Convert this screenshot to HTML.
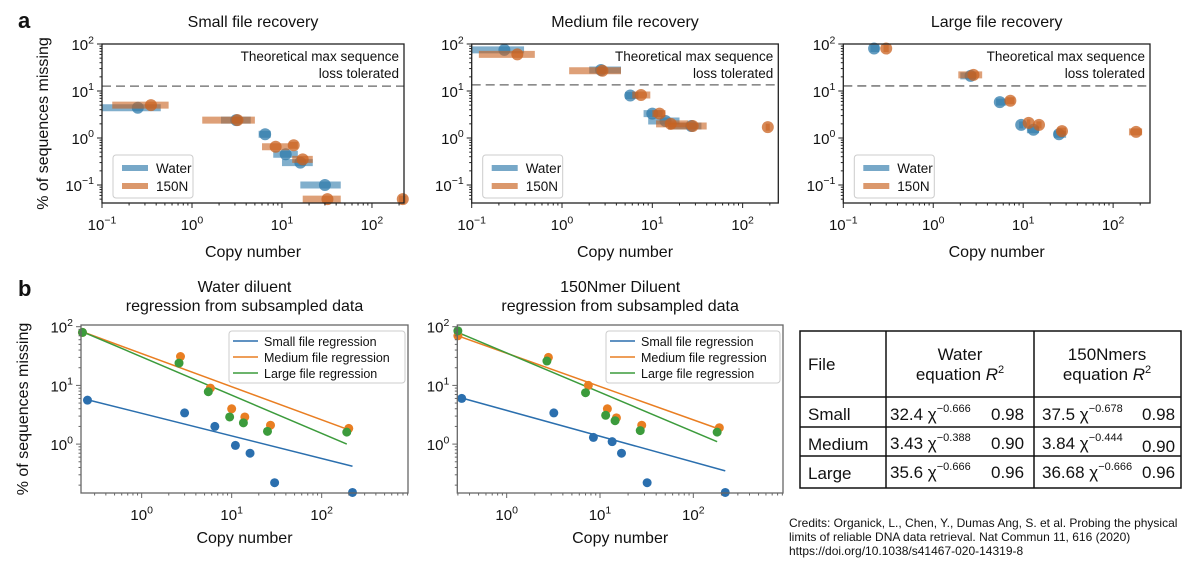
<!DOCTYPE html>
<html><head><meta charset="utf-8"><style>
body{margin:0;background:#fff;width:1200px;height:569px;overflow:hidden;font-family:"Liberation Sans",sans-serif}
svg text{font-family:"Liberation Sans",sans-serif;fill:#111}
</style></head><body>
<svg id="fig" width="1200" height="569" viewBox="0 0 1200 569" xmlns="http://www.w3.org/2000/svg">
<text x="18" y="28" font-size="22" font-weight="bold">a</text>
<text x="18" y="296" font-size="22" font-weight="bold">b</text>
<g font-size="17">
<rect x="800" y="331" width="381" height="157" fill="none" stroke="#111" stroke-width="1.5"/>
<line x1="800" y1="397" x2="1181" y2="397" stroke="#111" stroke-width="1.5"/>
<line x1="800" y1="427" x2="1181" y2="427" stroke="#111" stroke-width="1.5"/>
<line x1="800" y1="456" x2="1181" y2="456" stroke="#111" stroke-width="1.5"/>
<line x1="886" y1="331" x2="886" y2="488" stroke="#111" stroke-width="1.5"/>
<line x1="1034" y1="331" x2="1034" y2="488" stroke="#111" stroke-width="1.5"/>
<text x="808" y="370">File</text>
<text x="960" y="360" text-anchor="middle">Water</text>
<text x="960" y="380" text-anchor="middle">equation <tspan font-style="italic">R</tspan><tspan dy="-7" font-size="11">2</tspan></text>
<text x="1107" y="360" text-anchor="middle">150Nmers</text>
<text x="1107" y="380" text-anchor="middle">equation <tspan font-style="italic">R</tspan><tspan dy="-7" font-size="11">2</tspan></text>
<text x="808" y="420">Small</text><text x="808" y="450">Medium</text><text x="808" y="479">Large</text>
<text x="890" y="420">32.4 χ<tspan dy="-8" font-size="11">−0.666</tspan></text><text x="991" y="420">0.98</text>
<text x="890" y="449">3.43 χ<tspan dy="-8" font-size="11">−0.388</tspan></text><text x="991" y="449">0.90</text>
<text x="890" y="478">35.6 χ<tspan dy="-8" font-size="11">−0.666</tspan></text><text x="991" y="478">0.96</text>
<text x="1042" y="420">37.5 χ<tspan dy="-8" font-size="11">−0.678</tspan></text><text x="1142" y="420">0.98</text>
<text x="1042" y="449">3.84 χ<tspan dy="-8" font-size="11">−0.444</tspan></text><text x="1142" y="452">0.90</text>
<text x="1042" y="478">36.68 χ<tspan dy="-8" font-size="11">−0.666</tspan></text><text x="1142" y="478">0.96</text>
</g>
<g font-size="12">
<text x="789" y="527">Credits: Organick, L., Chen, Y., Dumas Ang, S. et al. Probing the physical</text>
<text x="789" y="541">limits of reliable DNA data retrieval. Nat Commun 11, 616 (2020)</text>
<text x="789" y="555">https://doi.org/10.1038/s41467-020-14319-8</text>
</g>
</svg>
<script>
// ---- Panel a data: [copy, pct, barLo, barHi]
const smallWater=[[0.25,4.4,0.1,0.45],[3.1,2.4,2.1,4.5],[6.5,1.2,5.5,7.5],[11,0.45,8,15],[16,0.3,10,22],[30,0.1,16,45]];
const small150=[[0.35,5,0.13,0.55],[3.2,2.4,1.3,5],[8.5,0.65,6,12],[13.5,0.7,12,15],[17,0.35,13,22],[32,0.05,17,45],[220,0.05,200,240]];
const medWater=[[0.23,75,0.1,0.38],[2.7,28,2,4.5],[5.7,8,5,7],[10,3.3,8,13],[14,2.3,9,20],[27,1.8,15,35]];
const med150=[[0.32,60,0.12,0.5],[2.8,27,1.2,4.5],[7.5,8.2,6,9.5],[12,3.3,10,14],[16,2,11,25],[28,1.8,15,40],[190,1.7,180,200]];
const largeWater=[[0.22,80,0.2,0.25],[2.6,21,2,3],[5.5,5.8,5,6.5],[9.5,1.9,9,10],[13,1.5,11,15],[25,1.2,22,30]];
const large150=[[0.3,80,0.28,0.32],[2.8,22,1.9,3.5],[7.2,6.2,6.5,8],[11.5,2.1,11,12],[15,1.9,14,16],[27,1.4,24,30],[180,1.35,150,210]];
const tolerance=[12.7,13.5,12.8];
// ---- Panel b data
const bwSmall=[[0.25,5.6],[3,3.4],[6.5,2],[11,0.95],[16,0.7],[30,0.22],[220,0.15]];
const bwMed=[[0.22,80],[2.7,31],[5.8,9],[10,4],[14,2.9],[27,2.1],[200,1.85]];
const bwLarge=[[0.22,80],[2.6,24],[5.5,7.8],[9.5,2.9],[13.5,2.3],[25,1.65],[190,1.6]];
const bwLines=[[[0.25,5.7],[220,0.42]],[[0.22,82],[200,1.75]],[[0.22,82],[190,1.0]]];
const bnSmall=[[0.33,6],[3.2,3.4],[8.5,1.3],[13.5,1.1],[17,0.7],[32,0.22],[220,0.15]];
const bnMed=[[0.3,70],[2.8,30],[7.5,10],[12,4],[15,2.8],[28,2.1],[190,1.9]];
const bnLarge=[[0.3,85],[2.7,26],[7,7.5],[11.5,3.1],[14.5,2.5],[27,1.7],[180,1.6]];
const bnLines=[[[0.33,6.1],[220,0.35]],[[0.3,70],[190,1.8]],[[0.3,80],[180,1.1]]];

const NS='http://www.w3.org/2000/svg';
const svg=document.getElementById('fig');
function mk(tag,attrs,parent){const e=document.createElementNS(NS,tag);for(const k in attrs)e.setAttribute(k,attrs[k]);(parent||svg).appendChild(e);return e;}
function sup(parent,x,y,base,exp,fs,anchor){
  const t=mk('text',{x:x,y:y,'font-size':fs,'text-anchor':anchor||'middle'},parent);
  t.appendChild(document.createTextNode(base));
  const s=mk('tspan',{dy:-fs*0.45,'font-size':fs*0.7},t);s.textContent=exp;return t;}
function axes(c){
  const g=mk('g',{});
  
  
  c.g=g;
  c.sx=v=>c.x0+(Math.log10(v)-c.xlo)/(c.xhi-c.xlo)*(c.x1-c.x0);
  c.sy=v=>c.y1-(Math.log10(v)-c.ylo)/(c.yhi-c.ylo)*(c.y1-c.y0);
  return c;}
function frame(c){
  const g=c.g,col=c.spine;
  mk('rect',{x:c.x0,y:c.y0,width:c.x1-c.x0,height:c.y1-c.y0,fill:'none',stroke:col,'stroke-width':1.3},g);
  for(let d=Math.floor(c.xlo);d<=Math.ceil(c.xhi);d++){
    for(let m=1;m<10;m++){const lv=d+Math.log10(m);if(lv<c.xlo-1e-6||lv>c.xhi+1e-6)continue;
      const x=c.sx(Math.pow(10,lv));mk('line',{x1:x,x2:x,y1:c.y1,y2:c.y1+(m==1?5:2.5),stroke:col,'stroke-width':1},g);
      if(m==1){const t=sup(g,x,c.y1+c.tko,'10',d<0?'−'+(-d):String(d),c.fs);}}}
  for(let d=Math.floor(c.ylo);d<=Math.ceil(c.yhi);d++){
    for(let m=1;m<10;m++){const lv=d+Math.log10(m);if(lv<c.ylo-1e-6||lv>c.yhi+1e-6)continue;
      const y=c.sy(Math.pow(10,lv));mk('line',{x1:c.x0,x2:c.x0-(m==1?5:2.5),y1:y,y2:y,stroke:col,'stroke-width':1},g);
      if(m==1){const t=sup(g,c.x0-8,y+6,'10',d<0?'−'+(-d):String(d),c.fs,'end');}}}
  const xl=mk('text',{x:(c.x0+c.x1)/2,y:c.y1+c.xlo2,'font-size':16,'text-anchor':'middle'},g);xl.textContent='Copy number';
  
  c.titles.forEach((tt,i)=>{const t=mk('text',{x:(c.x0+c.x1)/2,y:c.ty+i*19,'font-size':16,'text-anchor':'middle'},g);t.textContent=tt;
    });
  if(c.ylabel){const cy=(c.y0+c.y1)/2;const t=mk('text',{x:c.ylx,y:cy,'font-size':16,'text-anchor':'middle',transform:`rotate(-90 ${c.ylx} ${cy})`},g);
    t.textContent='% of sequences missing';}
}
const BLUE='#2f7bab',ORANGE='#c9621f';
function panelA(c,water,n150,tol){
  axes(c);
  const g=c.g;
  const y=c.sy(tol);
  const dl=mk('line',{x1:c.x0,x2:c.x1,y1:y,y2:y,stroke:'#666','stroke-width':1.3,'stroke-dasharray':'9,5'},g);
  
  let t=mk('text',{x:c.x1-5,y:c.y0+17,'font-size':13.5,'text-anchor':'end'},g);t.textContent='Theoretical max sequence';
  
  t=mk('text',{x:c.x1-5,y:c.y0+34,'font-size':13.5,'text-anchor':'end'},g);t.textContent='loss tolerated';
  
  [[water,BLUE,'water'],[n150,ORANGE,'150n']].forEach(([arr,col,nm])=>{
    arr.forEach(d=>{
      const b=mk('line',{x1:c.sx(d[2]),x2:c.sx(d[3]),y1:c.sy(d[1]),y2:c.sy(d[1]),stroke:col,'stroke-width':7,opacity:0.6},g);
      
      const p=mk('circle',{cx:c.sx(d[0]),cy:c.sy(d[1]),r:6,fill:col,opacity:0.75},g);
      
    });});
  const lg=mk('g',{},g);
  const lx=c.x0+11,ly=c.y1-48;
  mk('rect',{x:lx,y:ly,width:80,height:43,rx:3,fill:'#fff',stroke:'#ccc'},lg);
  [['Water',BLUE],['150N',ORANGE]].forEach(([n,col],i)=>{
    const e=mk('g',{},lg);
    mk('line',{x1:lx+9,x2:lx+35,y1:ly+13+i*18,y2:ly+13+i*18,stroke:col,'stroke-width':6,opacity:0.65},e);
    const tt=mk('text',{x:lx+43,y:ly+18+i*18,'font-size':13.5},e);tt.textContent=n;});
  frame(c);
}
function panelB(c,sm,md,lg_,lines){
  axes(c);
  const g=c.g,cols=['#2b6fae','#e97e22','#3c9b3c'],names=['small','medium','large'];
  lines.forEach((l,i)=>{const e=mk('line',{x1:c.sx(l[0][0]),y1:c.sy(l[0][1]),x2:c.sx(l[1][0]),y2:c.sy(l[1][1]),stroke:cols[i],'stroke-width':1.5},g);
    });
  [md,lg_,sm].forEach((arr,k)=>{const i=[1,2,0][k];arr.forEach(d=>{
    const p=mk('circle',{cx:c.sx(d[0]),cy:c.sy(d[1]),r:4.5,fill:cols[i]},g);
    });});
  const lgg=mk('g',{},g);
  const lx=c.lx,ly=c.y0+6;
  mk('rect',{x:lx,y:ly,width:c.x1-lx-3,height:52,rx:3,fill:'#fff',stroke:'#ccc'},lgg);
  ['Small file regression','Medium file regression','Large file regression'].forEach((n,i)=>{
    const e=mk('g',{},lgg);
    mk('line',{x1:lx+4,x2:lx+29,y1:ly+10+i*16,y2:ly+10+i*16,stroke:cols[i],'stroke-width':1.5},e);
    const t=mk('text',{x:lx+35,y:ly+15+i*16,'font-size':12.5},e);t.textContent=n;});
  frame(c);
}
panelA({name:'small-file-chart',x0:102,x1:404,y0:44,y1:203,xlo:-1,xhi:2.356,ylo:-1.383,yhi:2,fs:15,tko:27,xlo2:54,spine:'#222',titles:['Small file recovery'],ty:27,ylabel:true,ylx:48},smallWater,small150,tolerance[0]);
panelA({name:'medium-file-chart',x0:471.7,x1:778.3,y0:44,y1:203,xlo:-1,xhi:2.395,ylo:-1.383,yhi:2,fs:15,tko:27,xlo2:54,spine:'#222',titles:['Medium file recovery'],ty:27},medWater,med150,tolerance[1]);
panelA({name:'large-file-chart',x0:843.3,x1:1150,y0:44,y1:203,xlo:-1,xhi:2.41,ylo:-1.383,yhi:2,fs:15,tko:27,xlo2:54,spine:'#222',titles:['Large file recovery'],ty:27},largeWater,large150,tolerance[2]);
panelB({name:'water-regression-chart',x0:81,x1:408,y0:325,y1:493,xlo:-0.674,xhi:2.959,ylo:-0.833,yhi:2.029,fs:15,tko:27,xlo2:50,spine:'#666',titles:['Water diluent','regression from subsampled data'],ty:292,ylabel:true,ylx:28,lx:229},bwSmall,bwMed,bwLarge,bwLines);
panelB({name:'150nmer-regression-chart',x0:457.3,x1:783,y0:325,y1:493,xlo:-0.529,xhi:2.961,ylo:-0.833,yhi:2.029,fs:15,tko:27,xlo2:50,spine:'#666',titles:['150Nmer Diluent','regression from subsampled data'],ty:292,lx:606},bnSmall,bnMed,bnLarge,bnLines);
</script>
</body></html>
